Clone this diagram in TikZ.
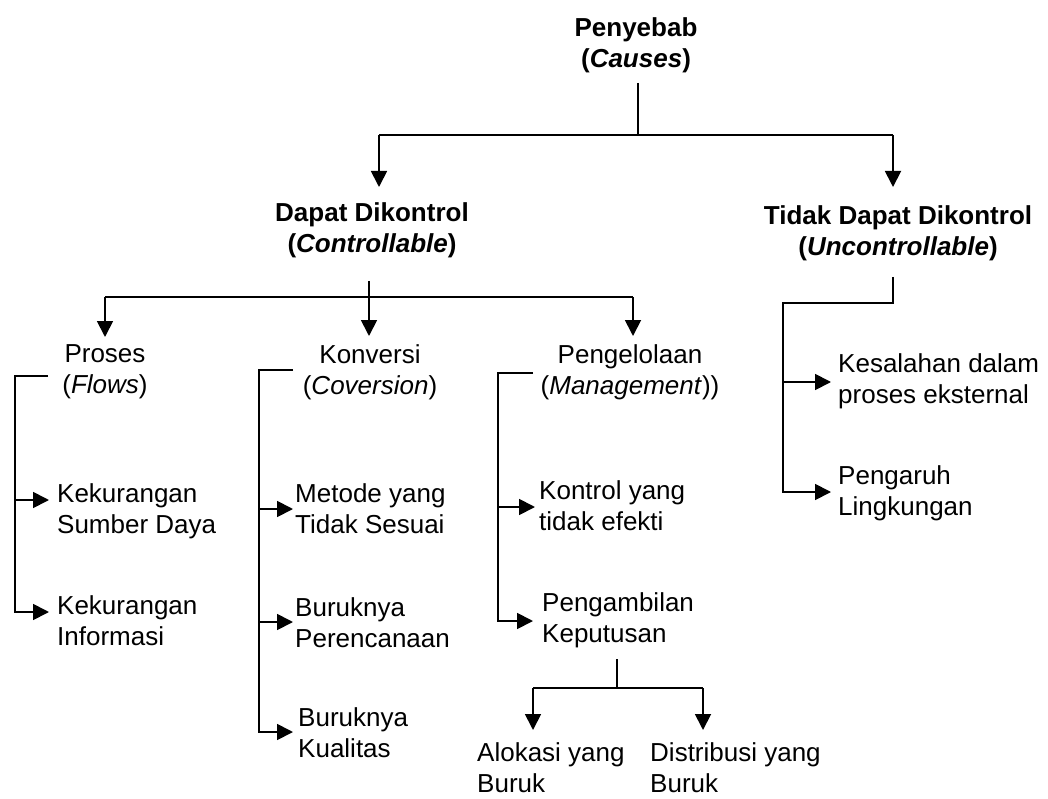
\documentclass[tikz,border=0pt]{standalone}
\usepackage{fontspec}
\setmainfont{Liberation Sans}
\usetikzlibrary{arrows.meta}
\begin{document}
\begin{tikzpicture}[x=1pt,y=-1pt,
  lbl/.style={inner sep=0pt, align=left, font=\fontsize{26}{31}\selectfont},
  clbl/.style={inner sep=0pt, align=center, font=\fontsize{26}{31}\selectfont},
  blbl/.style={inner sep=0pt, align=center, font=\bfseries\fontsize{26}{31}\selectfont},
  conn/.style={line width=1.8pt, line join=miter},
  arr/.style={conn, -{Triangle[length=16pt,width=16pt]}}]
\useasboundingbox (0,0) rectangle (1048,799);

% ---- titles
\node[blbl, anchor=north] (root) at (636,17) {Penyebab\\(\textit{Causes})};
\node[blbl, anchor=north] (dk) at (372,202) {Dapat Dikontrol\\(\textit{Controllable})};
\node[blbl, anchor=north] (tdk) at (898,205) {Tidak Dapat Dikontrol\\(\textit{Uncontrollable})};

\node[clbl, anchor=north] (pro) at (105,344) {Proses\\(\textit{Flows})};
\node[clbl, anchor=north] (kon) at (370,344) {Konversi\\(\textit{Coversion})};
\node[clbl, anchor=north] (pen) at (630,344) {Pengelolaan\\(\textit{Management}))};

% ---- leaves
\node[lbl, anchor=north west] (k1) at (57,483) {Kekurangan\\Sumber Daya};
\node[lbl, anchor=north west] (k2) at (57,595) {Kekurangan\\Informasi};
\node[lbl, anchor=north west] (m1) at (295,483) {Metode yang\\Tidak Sesuai};
\node[lbl, anchor=north west] (m2) at (295,597) {Buruknya\\Perencanaan};
\node[lbl, anchor=north west] (m3) at (298,707) {Buruknya\\Kualitas};
\node[lbl, anchor=north west] (p1) at (539,480) {Kontrol yang\\tidak efekti};
\node[lbl, anchor=north west] (p2) at (542,592) {Pengambilan\\Keputusan};
\node[lbl, anchor=north west] (a1) at (477,742) {Alokasi yang\\Buruk};
\node[lbl, anchor=north west] (a2) at (650,742) {Distribusi yang\\Buruk};
\node[lbl, anchor=north west] (t1) at (838,353) {Kesalahan dalam\\proses eksternal};
\node[lbl, anchor=north west] (t2) at (838,465) {Pengaruh\\Lingkungan};

% ---- junction coordinates
\coordinate (r0) at (638,83);   \coordinate (r1) at (638,135);
\coordinate (rl) at (379,135);  \coordinate (rr) at (893,135);
\coordinate (rlt) at (379,187); \coordinate (rrt) at (893,187);

\coordinate (d0) at (369,281);  \coordinate (d1) at (369,297);
\coordinate (dl) at (105,297);  \coordinate (dr) at (633,297);
\coordinate (dlt) at (105,337); \coordinate (dmt) at (369,336); \coordinate (drt) at (633,336);

\coordinate (pb0) at (48,376);  \coordinate (pb1) at (15,376);
\coordinate (pk1) at (49,500);  \coordinate (pk2) at (49,612);

\coordinate (kb0) at (293,370); \coordinate (kb1) at (259,370);
\coordinate (km1) at (293,509); \coordinate (km2) at (293,622); \coordinate (km3) at (293,732);

\coordinate (eb0) at (533,373); \coordinate (eb1) at (498,373);
\coordinate (ep1) at (535,507); \coordinate (ep2) at (533,621);

\coordinate (q0) at (617,659);  \coordinate (q1) at (617,688);
\coordinate (ql) at (533,688);  \coordinate (qr) at (703,688);
\coordinate (qlt) at (533,730); \coordinate (qrt) at (703,730);

\coordinate (u0) at (893,277);  \coordinate (u1) at (893,303);  \coordinate (u2) at (783,303);
\coordinate (ut1) at (831,382); \coordinate (ut2) at (831,492);

% ---- connectors
\draw[conn] (r0) -- (r1);
\draw[conn] (rl) -- (rr);
\draw[arr] (rl) -- (rlt);
\draw[arr] (rr) -- (rrt);

\draw[conn] (dl) -- (dr);
\draw[arr] (d0) -- (dmt);
\draw[arr] (dl) -- (dlt);
\draw[arr] (dr) -- (drt);

\draw[arr] (pb0) -- (pb1) -- (pb1 |- pk2) -- (pk2);
\draw[arr] (pb1 |- pk1) -- (pk1);

\draw[arr] (kb0) -- (kb1) -- (kb1 |- km3) -- (km3);
\draw[arr] (kb1 |- km1) -- (km1);
\draw[arr] (kb1 |- km2) -- (km2);

\draw[arr] (eb0) -- (eb1) -- (eb1 |- ep2) -- (ep2);
\draw[arr] (eb1 |- ep1) -- (ep1);

\draw[conn] (q0) -- (q1);
\draw[conn] (ql) -- (qr);
\draw[arr] (ql) -- (qlt);
\draw[arr] (qr) -- (qrt);

\draw[arr] (u0) -- (u1) -- (u2) -- (u2 |- ut2) -- (ut2);
\draw[arr] (u2 |- ut1) -- (ut1);
\end{tikzpicture}
\end{document}
